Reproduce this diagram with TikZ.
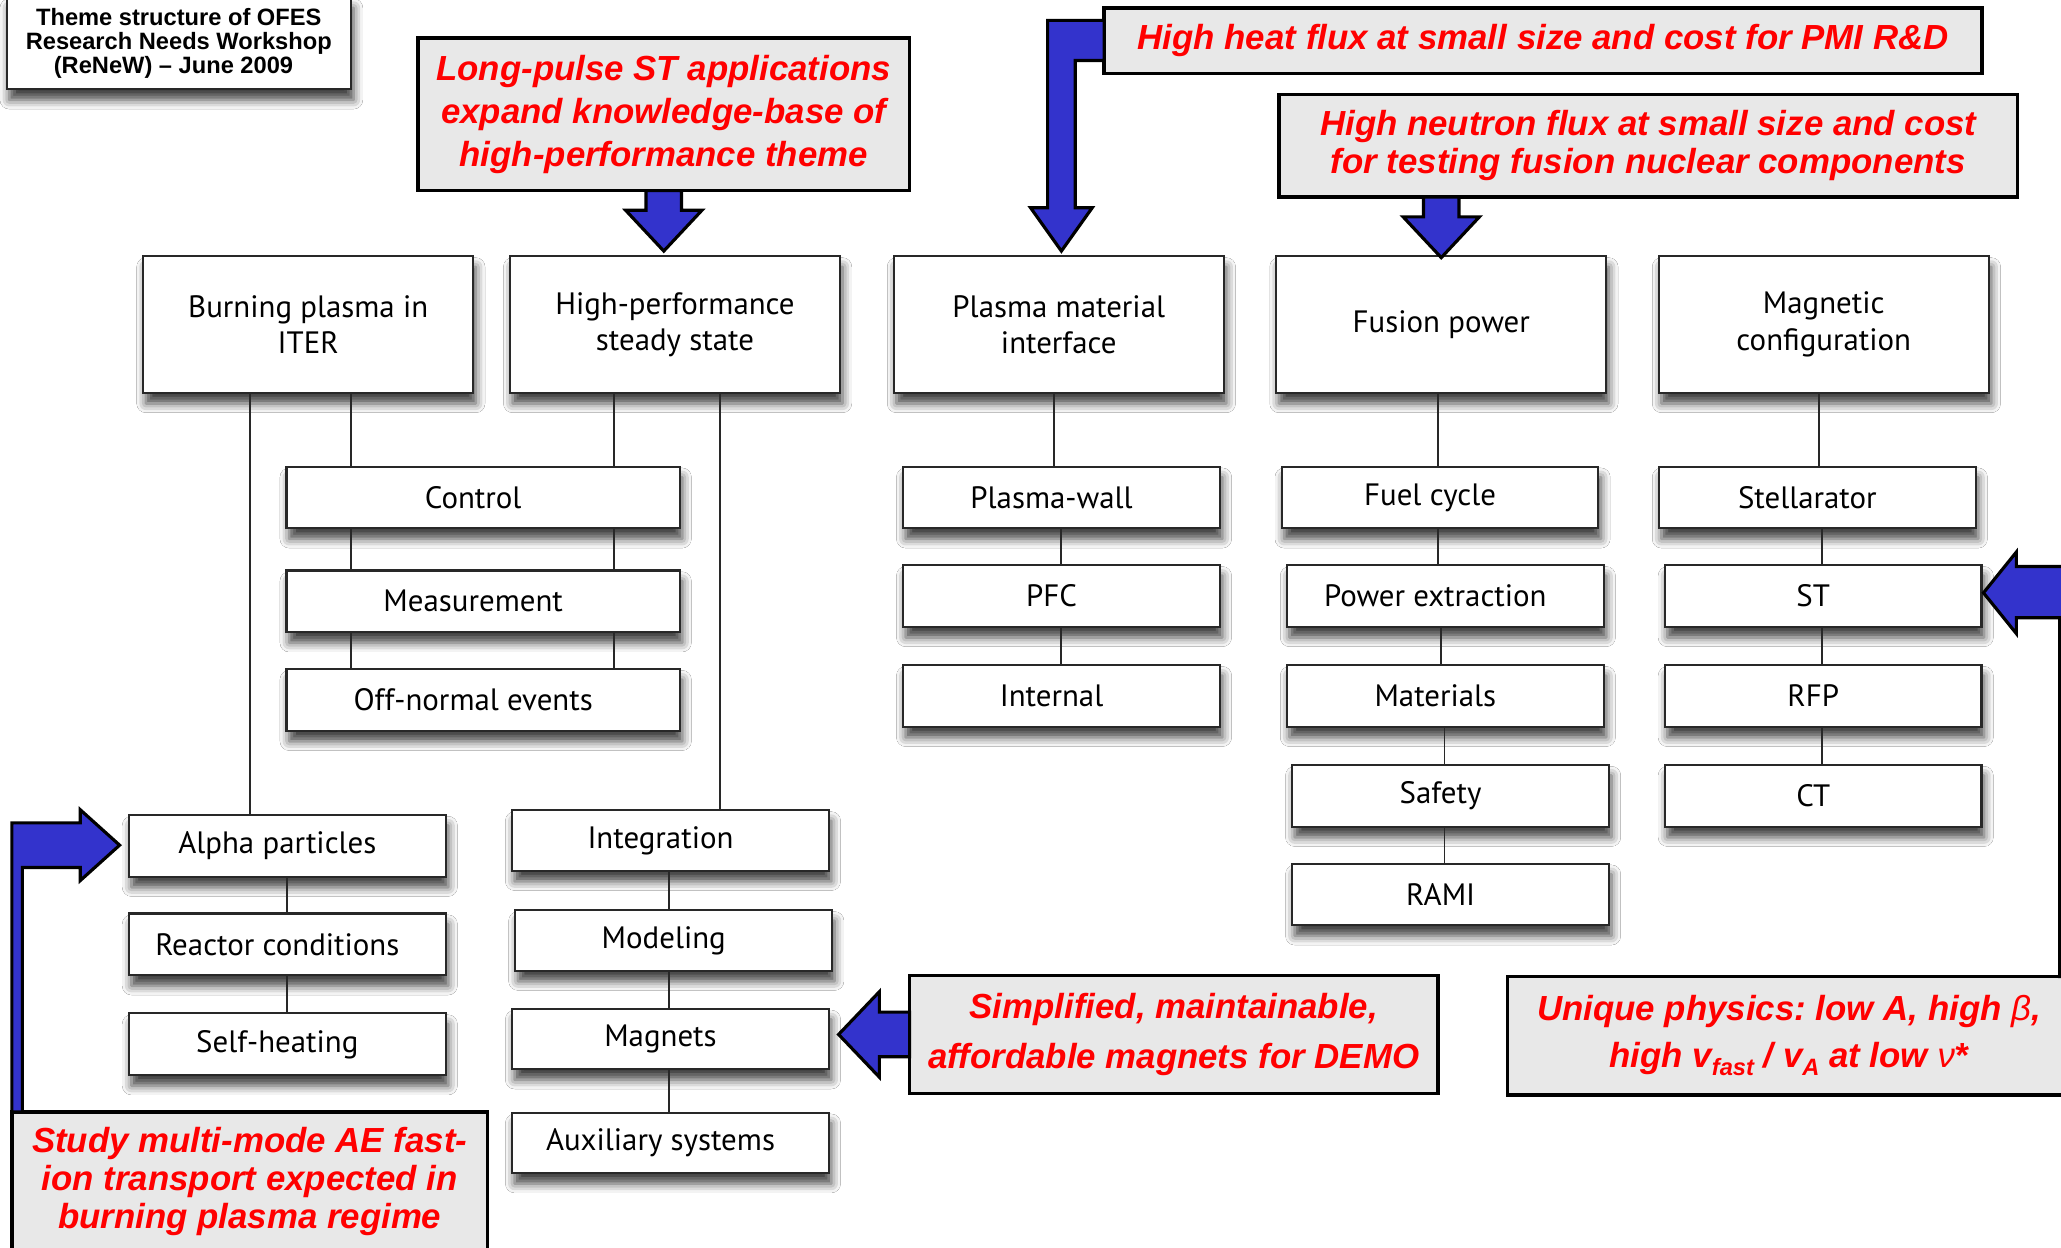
\documentclass[tikz,border=0pt]{standalone}
\usepackage{fontspec}
\setmainfont{PT Sans}
\newfontfamily\notefont{Liberation Sans}
\usetikzlibrary{positioning,calc,shadows.blur}
\definecolor{arrowblue}{RGB}{51,51,204}
\definecolor{notegray}{RGB}{232,232,232}
\definecolor{notered}{RGB}{255,0,0}
\definecolor{edgegray}{RGB}{40,40,40}
\newcommand\lowtext[1]{\raisebox{-6pt}{\fontsize{18}{18}\selectfont #1}}

\begin{document}
\begin{tikzpicture}[x=1pt, y=-1pt,
  font=\fontsize{23.5}{28}\selectfont,
  theme/.style={draw=edgegray, line width=1.6pt, fill=white, align=center,
    minimum width=251pt, minimum height=104pt, inner sep=2pt, outer sep=0pt,
    blur shadow={shadow xshift=2pt, shadow yshift=-8pt, shadow blur radius=7pt, shadow opacity=75}},
  topic/.style={theme, minimum width=241pt, minimum height=47pt,
    execute at end node={\kern15pt}},
  note/.style={draw=black, line width=2.6pt, fill=notegray, align=center, text=notered,
    inner sep=0pt, outer sep=0pt,
    font=\notefont\bfseries\itshape\frenchspacing\fontsize{26.5}{32.5}\selectfont},
  link/.style={draw=edgegray, line width=1.4pt},
  blk/.style={fill=arrowblue, draw=black, line width=2.4pt, line join=miter}
]
\clip (0,0) rectangle (1568,949);
\fill[white] (0,0) rectangle (1568,949);

% workshop label
\node[theme, minimum width=262pt, minimum height=70pt, inner sep=0pt,
  font=\notefont\bfseries\fontsize{18}{18}\selectfont] (ttl) at (136,33)
  {Theme structure of OFES\\Research Needs Workshop\\(ReNeW) – June 2009\kern8pt};

% the five themes
\node[theme] (bp) at (234.5,247) {Burning plasma in\\ITER};
\node[theme, right=28pt of bp] (hp) {High-performance\\steady state};
\node[theme, right=41pt of hp] (pm) {Plasma material\\interface};
\node[theme, right=40pt of pm] (fp) {Fusion power};
\node[theme, right=40pt of fp] (mc) {Magnetic\\configuration};

% shared topics
\node[topic, minimum width=299pt] (ctl) at (367.5,378.5) {Control};
\node[topic, minimum width=299pt, below=32pt of ctl] (meas) {Measurement};
\node[topic, minimum width=299pt, below=28pt of meas] (offn) {Off-normal events};

% burning plasma
\node[topic] (alpha) at (218.5,643.5) {Alpha particles};
\node[topic, below=28pt of alpha] (react) {Reactor conditions};
\node[topic, below=29pt of react] (selfh) {Self-heating};

% steady state
\node[topic, minimum height=46pt] (integ) at (510,639.5) {Integration};
\node[topic, minimum height=46pt, below=30pt of integ, xshift=2.5pt] (model) {Modeling};
\node[topic, minimum height=46pt, below=29pt of model, xshift=-2.5pt] (magn) {Magnets};
\node[topic, minimum height=46pt, below=33pt of magn] (aux) {Auxiliary systems};

% plasma material interface
\node[topic] (pwall) at (807.5,378.5) {Plasma-wall};
\node[topic, below=28pt of pwall] (pfc) {PFC};
\node[topic, below=29pt of pfc] (intl) {Internal};

% fusion power
\node[topic] (fuel) at (1095.5,378.5) {Fuel cycle};
\node[topic, below=28pt of fuel, xshift=4pt] (pext) {Power extraction};
\node[topic, below=29pt of pext] (matl) {Materials};
\node[topic, below=29pt of matl, xshift=4pt] (safe) {Safety};
\node[topic, below=28pt of safe] (rami) {RAMI};

% magnetic configuration
\node[topic] (stel) at (1382.5,378.5) {Stellarator};
\node[topic, below=28pt of stel, xshift=4.5pt] (st) {ST};
\node[topic, below=29pt of st] (rfp) {RFP};
\node[topic, below=29pt of rfp] (ct) {CT};

% tree lines
\coordinate (c1) at ([xshift=32.5pt]bp.south);
\coordinate (c2) at ([xshift=-46.5pt]hp.south);
\draw[link] ([xshift=-44.5pt]bp.south) -- ([xshift=-44.5pt]bp.south |- alpha.north);
\draw[link] (c1) -- (c1 |- ctl.north) (c1 |- ctl.south) -- (c1 |- meas.north)
  (c1 |- meas.south) -- (c1 |- offn.north);
\draw[link] (c2) -- (c2 |- ctl.north) (c2 |- ctl.south) -- (c2 |- meas.north)
  (c2 |- meas.south) -- (c2 |- offn.north);
\draw[link] ([xshift=34.5pt]hp.south) -- ([xshift=34.5pt]hp.south |- integ.north);
\draw[link] (alpha) -- (react) (react) -- (selfh);
\draw[link] ([xshift=-1pt]integ.south) -- ([xshift=-1pt]integ.south |- model.north)
  ([xshift=-1pt]integ.south |- model.south) -- ([xshift=-1pt]integ.south |- magn.north)
  ([xshift=-1pt]magn.south) -- ([xshift=-1pt]magn.south |- aux.north);
\draw[link] ([xshift=-3.5pt]pm.south) -- ([xshift=-3.5pt]pm.south |- pwall.north);
\draw[link] (pwall) -- (pfc) (pfc) -- (intl);
\draw[link] ([xshift=-2.5pt]fp.south) -- ([xshift=-2.5pt]fp.south |- fuel.north);
\draw[link] ([xshift=-1.5pt]fuel.south) -- ([xshift=-1.5pt]fuel.south |- pext.north)
  ([xshift=-3.5pt]pext.south) -- ([xshift=-3.5pt]pext.south |- matl.north)
  ([xshift=-0.5pt]matl.south) -- ([xshift=-0.5pt]matl.south |- safe.north)
  ([xshift=-4.5pt]safe.south) -- ([xshift=-4.5pt]safe.south |- rami.north);
\draw[link] ([xshift=-3.5pt]mc.south) -- ([xshift=-3.5pt]mc.south |- stel.north);
\draw[link] ([xshift=-1pt]st.north |- stel.south) -- ([xshift=-1pt]st.north)
  ([xshift=-1pt]st.south) -- ([xshift=-1pt]rfp.north)
  ([xshift=-1pt]rfp.south) -- ([xshift=-1pt]ct.north);

% red notes
\node[note, minimum width=374pt, minimum height=116pt] (lp) at (505,87)
  {Long-pulse ST applications\\expand knowledge-base of\\high-performance theme};
\node[note, minimum width=668pt, minimum height=50pt] (hh) at (1174,31)
  {High heat flux at small size and cost for PMI R\&D};
\node[note, minimum width=562pt, minimum height=78pt,
  font=\notefont\bfseries\itshape\frenchspacing\fontsize{26.5}{29}\selectfont] (nf) at (1254,111)
  {High neutron flux at small size and cost\\for testing fusion nuclear components};
\node[note, minimum width=402pt, minimum height=90pt,
  font=\notefont\bfseries\itshape\frenchspacing\fontsize{26.5}{38}\selectfont] (sd) at (893,787)
  {Simplified, maintainable,\\affordable magnets for DEMO};
\node[note, minimum width=428pt, minimum height=90pt,
  font=\notefont\bfseries\itshape\frenchspacing\fontsize{26.5}{36}\selectfont] (up) at (1361,788)
  {Unique physics: low A, high {\mdseries β},\\high v\lowtext{fast} / v\lowtext{A} at low {\mdseries ν}*};
\node[note, minimum width=362pt, minimum height=106pt,
  font=\notefont\bfseries\itshape\frenchspacing\fontsize{26.5}{29}\selectfont] (sm) at (190,899)
  {Study multi-mode AE fast-\\ion transport expected in\\burning plasma regime};

% block arrows
\draw[blk] ([xshift=-13.5pt]lp.south) -- ++(0,15) -- ++(-15.5,0) -- ++(29,31)
  -- ++(29,-31) -- ++(-15.5,0) -- ++(0,-15) -- cycle;
\draw[blk] ([xshift=-13.5pt]nf.south -| fp.north) -- ++(0,15) -- ++(-15.5,0) -- ++(29,31)
  -- ++(29,-31) -- ++(-15.5,0) -- ++(0,-15) -- cycle;
\draw[blk] ([yshift=15.5pt]hh.west) -- ++(-43,0) -- ++(0,142.5) -- ++(-13,0)
  -- ++(23.5,33) -- ++(23.5,-33) -- ++(-13,0) -- ++(0,-112) -- ++(22,0) -- cycle;
\draw[blk] ([yshift=17pt]sd.west) -- ++(-23,0) -- ++(0,-15.5) -- ++(-31,32.5)
  -- ++(31,32.5) -- ++(0,-15.5) -- ++(23,0) -- cycle;
\draw[blk] (sm.north west) -- ++(0,-220) -- ++(52,0) -- ++(0,-10) -- ++(30,27)
  -- ++(-30,27) -- ++(0,-10) -- ++(-44,0) -- ++(0,186) -- cycle;
\draw[blk] ([xshift=-8pt]up.north east) -- ++(0,-273) -- ++(-33,0) -- ++(0,12)
  -- ++(-25,-31) -- ++(25,-31) -- ++(0,11) -- ++(80,0) -- ++(0,312) -- cycle;
\end{tikzpicture}
\end{document}
